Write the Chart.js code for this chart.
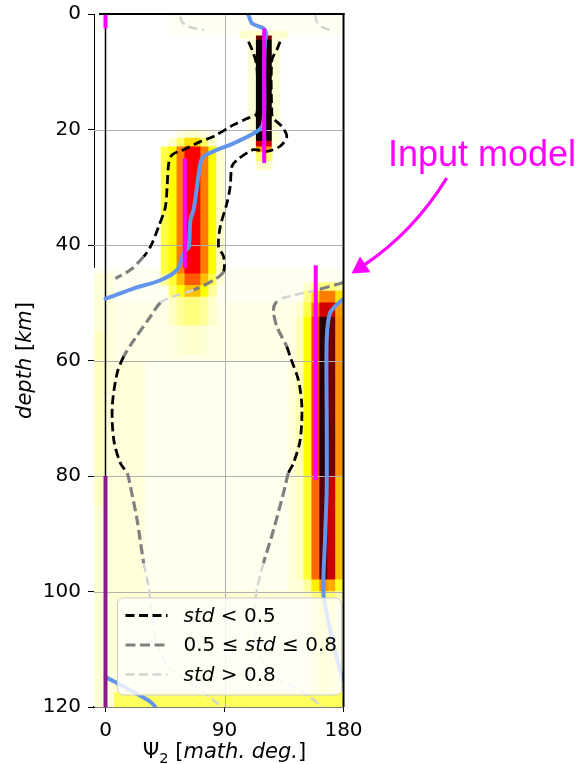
<!DOCTYPE html>
<html>
<head>
<meta charset="utf-8">
<title>Psi2 versus depth</title>
<script src="https://cdn.jsdelivr.net/npm/chart.js@4.4.1/dist/chart.umd.min.js"></script>
<style>
html, body { margin: 0; padding: 0; background: #ffffff; }
#wrap { position: relative; width: 588px; height: 764px; }
canvas { display: block; }
</style>
</head>
<body>
<div id="wrap"><canvas id="chart" width="588" height="764"></canvas></div>
<script>
// ================= DATA =================
const xTicks = [0, 90, 180];
const yTicks = [0, 20, 40, 60, 80, 100, 120];
const xMin = -8.7, xMax = 180, yMin = 0, yMax = 120;
const binWidth = 6; // degrees per density bin

// pale background wash of the density image (depth band, bin range, level 0..1)
const bgTop    = [0,     3,    44,    50,    60,    60,    100,   117.5, 45,   55,   45];
const bgBottom = [3.5,   4.2,  50,    60,    100,   100,   117.5, 120,   120,  85,   120];
const bgFrom   = [48,    102,  -12,   -12,   -12,   30,    -12,   -12,   -12,  -12,  0];
const bgTo     = [180,   138,  180,   180,   180,   138,   180,   180,   0,    0,    6];
const bgLevel  = [0.012, 0.05, 0.014, 0.025, 0.035, 0.018, 0.045, 0.16,  0.04, 0.06, 0.035];

// concentrated density: depth band, left edge of first bin, levels of successive bins
const rowTop    = [3.8, 4.5, 22, 23, 24,   25.5, 20,   21.5, 23, 45, 47, 49, 54, 46.5, 48, 50,   52.5, 80, 98,  100];
const rowBottom = [4.5, 22,  23, 24, 25.5, 27,   21.5, 23,   45, 47, 49, 54, 59, 48,   50, 52.5, 80,   98, 100, 117.5];
const rowFrom   = [108, 108, 108, 108, 114, 114, 54,   48,   42, 42, 48, 48, 48, 150,  150, 144, 144, 144, 150, 150];
const rowLevels = [
  [0.04, 0.85, 0.85, 0.04],
  [0.04, 1.00, 1.00, 0.04],
  [0.03, 0.70, 0.70, 0.03],
  [0.02, 0.40, 0.40, 0.02],
  [0.15, 0.15],
  [0.05, 0.05],
  [0.03, 0.05, 0.05, 0.03, 0.02],
  [0.05, 0.15, 0.30, 0.30, 0.15, 0.05],
  [0.18, 0.26, 0.45, 0.64, 0.64, 0.45, 0.26, 0.05],
  [0.10, 0.20, 0.35, 0.50, 0.50, 0.35, 0.18, 0.04],
  [0.15, 0.25, 0.35, 0.35, 0.25, 0.10],
  [0.06, 0.10, 0.13, 0.13, 0.10, 0.05],
  [0.03, 0.04, 0.05, 0.05, 0.04, 0.03],
  [0.05, 0.10, 0.13, 0.13, 0.10],
  [0.12, 0.30, 0.45, 0.45, 0.30],
  [0.05, 0.18, 0.45, 0.70, 0.70, 0.40],
  [0.07, 0.25, 0.55, 0.95, 0.85, 0.42],
  [0.06, 0.20, 0.48, 0.88, 0.72, 0.35],
  [0.10, 0.28, 0.42, 0.38, 0.22],
  [0.06, 0.12, 0.16, 0.14, 0.08]
];

// contour lines [deg, km]; class per segment: 0 std<0.5, 1 0.5<=std<=0.8, 2 std>0.8
const contourTopLeft  = [[56.6, 0.47], [57.9, 1.33], [62.9, 2.2], [74.2, 2.8]];
const contourTopLeftStd  = [2, 2, 2];
const contourTopRight = [[158.5, 0.17], [159.8, 1.33], [163.5, 2.2], [169.8, 2.8]];
const contourTopRightStd = [2, 2, 2];
const contourUpper = [[108.2, 4.8], [111.9, 6.8], [114.5, 9.1], [114.5, 17.2], [106.9, 18.1], [96.8, 19.2],
  [81.7, 21.2], [71.7, 22.1], [59.1, 23.5], [50.3, 24.4], [47.8, 25.9], [46.6, 29.9], [45.3, 33.4],
  [40.2, 36.8], [34, 40.3], [28.9, 42.0], [18.9, 44.3], [7.5, 45.8]];
const contourUpperStd = [0,0,0,0,0,0,0,0,0,0,0,0,0,0,0,1,1];
const contourLeft = [[132, 4.8], [129.6, 6.2], [125.8, 8], [125.8, 17.3], [127, 18.1], [133.4, 19.5],
  [137.1, 21.2], [132, 22.9], [122, 23.8], [111.9, 23.5], [99.4, 25.3], [95.6, 26.4], [94.3, 29.9],
  [91.8, 32.8], [86.8, 36.8], [85.5, 40.3], [89.3, 42.0], [89.3, 44.6], [81.7, 46.1], [66.6, 47.8],
  [50.3, 49.0], [41.5, 50.0], [34, 52.4], [21.4, 56.5], [13.8, 59.3], [8.8, 62.2], [5.1, 68.0],
  [6.3, 73.8], [11.3, 77.8], [16.4, 79.5], [18.9, 81.9], [23.9, 87.6], [28.9, 95.1], [32.7, 99.2],
  [35, 104], [39, 109], [47, 113], [61.7, 115.3], [81.7, 118.8], [88, 120]];
const contourLeftStd = [0,0,0,0,0,0,0,0,0,0,0,0,0,0,0,0,0, 1,1, 2,2, 1,1,1, 0,0,0,0,0, 1,1,1, 2,2,2,2,2,2,2];
const contourRight = [[180, 46.5], [159.8, 47.8], [137.1, 49.0], [129.6, 49.8], [127, 51.3], [129.6, 54.1],
  [137.1, 57.6], [139.6, 59.3], [145.9, 63.4], [148.5, 68.0], [147.2, 73.8], [142.1, 77.8], [138.3, 79.5],
  [135.8, 81.9], [127, 89.4], [119.5, 95.1], [114.5, 99.7], [112, 105], [116, 110.5], [127, 114.5],
  [147.2, 117.1], [164.5, 120]];
const contourRightStd = [1, 2,2, 1,1,1, 0,0,0,0,0,0, 1,1,1, 2,2,2,2,2,2];

// blue line (null separates pieces)
const blueDeg   = [107.5, 108.2, 110.7, 119.5, 121.5, 120.5, 120, 120, 118.3, 111.9, 96.8, 81.7, 74.2, 71.7, 69.2, 66.6, 64.2, 62.9, 59.1, 54.1, 41.5, 21.4, 3.8, 0,
  null, 180, 177.4, 169.8, 167.3, 167.3, 167.3, 166, 164.8, 168.3, 172.1, 177.4, 180,
  null, 0, 16.4, 34, 37.7];
const blueDepth = [0, 0.17, 1.6, 2.5, 3.3, 5, 10, 17, 19.5, 20.7, 22.4, 23.8, 24.7, 25.9, 29.9, 33.9, 35.7, 40.3, 41.4, 44.3, 46.1, 47.5, 49.0, 49.3,
  null, 49.4, 49.8, 51.8, 56.4, 70, 81.9, 91, 100.3, 104.9, 108.9, 113.6, 115.3,
  null, 114.8, 116.8, 119.1, 120];

// input model (magenta)
const inputDeg   = [0, 0, null, 120, 120, null, 60, 60, null, 159, 159, null, 0, 0];
const inputDepth = [0, 2.5, null, 2.5, 25.8, null, 25, 44, null, 43.5, 80.7, null, 80, 120];

// legend and annotation
const legendRuns = [
  [{ t: 'std', it: true }, { t: ' < 0.5' }],
  [{ t: '0.5 \u2264 ' }, { t: 'std', it: true }, { t: ' \u2264 0.8' }],
  [{ t: 'std', it: true }, { t: ' > 0.8' }]
];
const legendStd = [0, 1, 2];
const noteText = 'Input model';
const noteAnchor = [213.6, 26.3];
const arrowTail = [258.1, 28.4];
const arrowCtrl = [233.1, 37.7];
const arrowEnd  = [195.5, 43.5];
const xTitleRuns = [{ t: '\u03A8' }, { t: '2', sub: true }, { t: ' [' }, { t: 'math.', it: true }, { t: ' ' }, { t: 'deg.', it: true }, { t: ']' }];
const yTitleRuns = [{ t: 'depth', it: true }, { t: ' [' }, { t: 'km', it: true }, { t: ']' }];

// ================= BUILD =================
function hotR(v) {
  const x = 1 - Math.max(0, Math.min(1, v));
  const k1 = 0.365079, k2 = 0.746032;
  const r = x < k1 ? 0.0416 + (1 - 0.0416) * x / k1 : 1;
  const g = x < k1 ? 0 : (x < k2 ? (x - k1) / (k2 - k1) : 1);
  const b = x < k2 ? 0 : (x - k2) / (1 - k2);
  return 'rgb(' + Math.round(r * 255) + ',' + Math.round(g * 255) + ',' + Math.round(b * 255) + ')';
}

const cells = [], cellColors = [];
function pushCell(left, top, bottom, v) {
  if (v <= 0) return;
  cells.push({ x: left + binWidth / 2, y: [top, bottom] });
  cellColors.push(hotR(v));
}
bgTop.forEach((top, i) => {
  for (let l = bgFrom[i]; l < bgTo[i] - 1e-9; l += binWidth) pushCell(l, top, bgBottom[i], bgLevel[i]);
});
rowTop.forEach((top, i) => {
  rowLevels[i].forEach((v, k) => pushCell(rowFrom[i] + k * binWidth, top, rowBottom[i], v));
});

const stdStyle = [
  { color: '#000000', width: 2.8, dash: [9, 4.5] },
  { color: '#808080', width: 3.2, dash: [10, 4.5] },
  { color: '#d3d3d3', width: 2.4, dash: [9, 4.5] }
];

function contourDataset(points, classes, label) {
  const s0 = stdStyle[classes[0]];
  return {
    type: 'line', label: label,
    data: points.map(p => ({ x: p[0], y: p[1] })),
    borderColor: s0.color, borderWidth: s0.width, borderDash: s0.dash,
    borderCapStyle: 'butt', pointRadius: 0, tension: 0.3, fill: false, order: 3,
    segment: {
      borderColor: c => stdStyle[classes[c.p0DataIndex]].color,
      borderWidth: c => stdStyle[classes[c.p0DataIndex]].width,
      borderDash: c => stdStyle[classes[c.p0DataIndex]].dash
    }
  };
}
function pairs(xs, ys) {
  return xs.map((d, i) => d === null ? { x: NaN, y: NaN } : { x: d, y: ys[i] });
}

const datasets = [
  { type: 'bar', label: 'density', data: cells, backgroundColor: cellColors, borderWidth: 0,
    barPercentage: 1, categoryPercentage: 1, order: 10 },
  contourDataset(contourTopLeft, contourTopLeftStd, 'c1'),
  contourDataset(contourTopRight, contourTopRightStd, 'c2'),
  contourDataset(contourUpper, contourUpperStd, 'c3'),
  contourDataset(contourLeft, contourLeftStd, 'c4'),
  contourDataset(contourRight, contourRightStd, 'c5'),
  { type: 'line', label: 'mean', data: pairs(blueDeg, blueDepth), borderColor: '#6495ed', borderWidth: 4,
    pointRadius: 0, tension: 0.3, fill: false, spanGaps: false, order: 2, borderCapStyle: 'round' },
  { type: 'line', label: 'Input model', data: pairs(inputDeg, inputDepth), borderColor: '#ff00ff', borderWidth: 4,
    pointRadius: 0, tension: 0, fill: false, spanGaps: false, order: 1,
    segment: { borderColor: c => (inputDeg[c.p0DataIndex] === 0 && inputDepth[c.p0DataIndex] >= 80) ? '#8a1a8a' : '#ff00ff' } }
];

const FONT = "'DejaVu Sans'";
function runFont(r, size) { return (r.it ? 'italic ' : '') + (r.sub ? size * 0.7 : size) + 'px ' + FONT; }
function runsWidth(ctx, runs, size) {
  let w = 0;
  runs.forEach(r => { ctx.font = runFont(r, size); w += ctx.measureText(r.t).width; });
  return w;
}
function drawRuns(ctx, runs, x, y, size) {
  let cx = x;
  runs.forEach(r => {
    ctx.font = runFont(r, size);
    ctx.fillText(r.t, cx, y + (r.sub ? size * 0.22 : 0));
    cx += ctx.measureText(r.t).width;
  });
}
function strokeLine(ctx, x1, y1, x2, y2) { ctx.beginPath(); ctx.moveTo(x1, y1); ctx.lineTo(x2, y2); ctx.stroke(); }

const layersPlugin = {
  id: 'layers',
  afterDatasetDraw(chart, args) {
    if (args.index !== 0) return;
    const { ctx, chartArea: a, scales: { x, y } } = chart;
    ctx.save();
    ctx.strokeStyle = '#b0b0b0'; ctx.lineWidth = 1;
    xTicks.forEach(v => { if (v > 0 && v < xMax) { const p = Math.round(x.getPixelForValue(v)) + 0.5; strokeLine(ctx, p, a.top, p, a.bottom); } });
    yTicks.forEach(v => { if (v > yMin && v < yMax) { const p = Math.round(y.getPixelForValue(v)) + 0.5; strokeLine(ctx, a.left, p, a.right, p); } });
    ctx.strokeStyle = '#000'; ctx.lineWidth = 1.5;
    const x0 = x.getPixelForValue(0);
    strokeLine(ctx, x0, a.top, x0, a.bottom);
    ctx.restore();
  },
  afterDatasetsDraw(chart) {
    const { ctx, chartArea: a, scales: { x, y } } = chart;
    ctx.save();
    ctx.strokeStyle = '#000'; ctx.lineWidth = 2;
    strokeLine(ctx, a.right, a.top - 1, a.right, a.bottom);
    strokeLine(ctx, a.left + 5, a.top, a.right + 1, a.top);
    // legend
    const bl = x.getPixelForValue(0) + 12, br = a.right - 2, bb = a.bottom - 12, bt = bb - 97, rad = 6;
    ctx.beginPath();
    ctx.moveTo(bl + rad, bt); ctx.lineTo(br - rad, bt); ctx.arcTo(br, bt, br, bt + rad, rad);
    ctx.lineTo(br, bb - rad); ctx.arcTo(br, bb, br - rad, bb, rad);
    ctx.lineTo(bl + rad, bb); ctx.arcTo(bl, bb, bl, bb - rad, rad);
    ctx.lineTo(bl, bt + rad); ctx.arcTo(bl, bt, bl + rad, bt, rad); ctx.closePath();
    ctx.fillStyle = 'rgba(255,255,255,0.8)'; ctx.fill();
    ctx.strokeStyle = '#cccccc'; ctx.lineWidth = 1; ctx.stroke();
    legendRuns.forEach((runs, k) => {
      const ry = bt + 17.5 + k * 29.5;
      const s = stdStyle[legendStd[k]];
      ctx.save();
      ctx.strokeStyle = s.color; ctx.lineWidth = s.width; ctx.setLineDash(s.dash); ctx.lineCap = 'butt';
      strokeLine(ctx, bl + 8, ry, bl + 50, ry);
      ctx.restore();
      ctx.fillStyle = '#000'; ctx.textBaseline = 'middle'; ctx.textAlign = 'left';
      drawRuns(ctx, runs, bl + 66, ry + 1, 20);
    });
    ctx.restore();
  },
  afterDraw(chart) {
    const { ctx, chartArea: a, scales: { x, y } } = chart;
    ctx.save();
    ctx.fillStyle = '#000'; ctx.textAlign = 'left';
    // x title
    ctx.textBaseline = 'alphabetic';
    const cx = x.getPixelForValue(90);
    const wx = runsWidth(ctx, xTitleRuns, 21);
    drawRuns(ctx, xTitleRuns, cx - wx / 2, 758, 21);
    // y title
    ctx.save();
    ctx.translate(26, (a.top + a.bottom) / 2);
    ctx.rotate(-Math.PI / 2);
    ctx.textBaseline = 'middle';
    const wy = runsWidth(ctx, yTitleRuns, 21);
    drawRuns(ctx, yTitleRuns, -wy / 2, 0, 21);
    ctx.restore();
    // annotation arrow + text
    const T = [x.getPixelForValue(arrowTail[0]), y.getPixelForValue(arrowTail[1])];
    const C = [x.getPixelForValue(arrowCtrl[0]), y.getPixelForValue(arrowCtrl[1])];
    const E = [x.getPixelForValue(arrowEnd[0]), y.getPixelForValue(arrowEnd[1])];
    ctx.strokeStyle = '#ff00ff'; ctx.fillStyle = '#ff00ff'; ctx.lineWidth = 3.3; ctx.lineCap = 'butt';
    ctx.beginPath(); ctx.moveTo(T[0], T[1]); ctx.quadraticCurveTo(C[0], C[1], E[0], E[1]); ctx.stroke();
    let dx = E[0] - C[0], dy = E[1] - C[1]; const dl = Math.hypot(dx, dy); dx /= dl; dy /= dl;
    const hl = 15, hw = 9.5;
    ctx.beginPath();
    ctx.moveTo(E[0] + dx * hl, E[1] + dy * hl);
    ctx.lineTo(E[0] - dy * hw - dx * 1.5, E[1] + dx * hw - dy * 1.5);
    ctx.lineTo(E[0] + dy * hw - dx * 1.5, E[1] - dx * hw - dy * 1.5);
    ctx.closePath(); ctx.fill();
    ctx.font = "36px 'Liberation Sans'";
    ctx.textBaseline = 'alphabetic';
    ctx.fillText(noteText, x.getPixelForValue(noteAnchor[0]), y.getPixelForValue(noteAnchor[1]));
    ctx.restore();
  }
};

new Chart(document.getElementById('chart'), {
  type: 'line',
  data: { datasets: datasets },
  plugins: [layersPlugin],
  options: {
    responsive: false, maintainAspectRatio: false, animation: false, events: [],
    layout: { padding: { left: 0, top: 14, right: 244.5, bottom: 0 } },
    plugins: { legend: { display: false }, tooltip: { enabled: false } },
    scales: {
      x: {
        type: 'linear', min: xMin, max: xMax, offset: false,
        afterBuildTicks: s => { s.ticks = xTicks.map(v => ({ value: v })); },
        afterFit: s => { s.height = 57; s.paddingLeft = 0; s.paddingRight = 0; },
        grid: { drawOnChartArea: false, drawTicks: true, tickLength: 5, tickColor: '#000', lineWidth: 1, offset: false },
        border: { display: true, color: '#000', width: 1.5 },
        ticks: { font: { family: 'DejaVu Sans', size: 20 }, color: '#000', padding: 7, maxRotation: 0, autoSkip: false }
      },
      y: {
        type: 'linear', min: yMin, max: yMax, reverse: true,
        afterBuildTicks: s => { s.ticks = yTicks.map(v => ({ value: v })); },
        afterFit: s => { s.width = 94; s.paddingTop = 0; s.paddingBottom = 0; },
        grid: { drawOnChartArea: false, drawTicks: true, tickLength: 6, tickColor: '#000', lineWidth: 1 },
        border: { display: true, color: '#000', width: 1 },
        ticks: { font: { family: 'DejaVu Sans', size: 20 }, color: '#000', padding: 7, autoSkip: false }
      }
    }
  }
});
</script>
</body>
</html>
